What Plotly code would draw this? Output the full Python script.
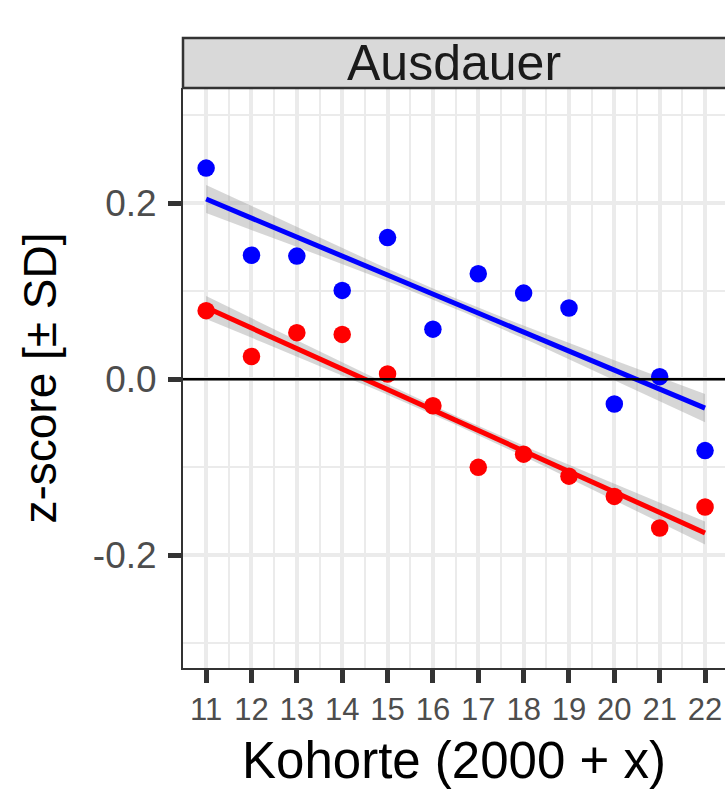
import numpy as np
import plotly.graph_objects as go

kohorte = [11, 12, 13, 14, 15, 16, 17, 18, 19, 20, 21, 22]
blue_z = [0.240, 0.141, 0.140, 0.101, 0.161, 0.057, 0.120, 0.098, 0.081, -0.028, 0.003, -0.081]
red_z = [0.078, 0.026, 0.053, 0.051, 0.006, -0.030, -0.100, -0.085, -0.110, -0.133, -0.169, -0.145]
# approximate confidence band half-widths (centre, ends)
blue_ci = [0.006, 0.016]
red_ci = [0.005, 0.013]
y_ticks = [-0.2, 0.0, 0.2]
y_ticklabels = ["-0.2", "0.0", "0.2"]
strip_label = "Ausdauer"

FONT = "Liberation Sans, Arial, sans-serif"

fig = go.Figure()


def add_series(yvals, color, ci):
    x = np.array(kohorte, dtype=float)
    y = np.array(yvals, dtype=float)
    slope, icpt = np.polyfit(x, y, 1)
    xs = np.linspace(x.min(), x.max(), 80)
    fit = icpt + slope * xs
    xbar = x.mean()
    dmax = (x.max() - x.min()) / 2
    b = np.sqrt(max(ci[1] ** 2 - ci[0] ** 2, 0)) / dmax
    hw = np.sqrt(ci[0] ** 2 + (b * (xs - xbar)) ** 2)
    fig.add_trace(go.Scatter(
        x=np.concatenate([xs, xs[::-1]]),
        y=np.concatenate([fit + hw, (fit - hw)[::-1]]),
        fill="toself", fillcolor="rgba(153,153,153,0.4)",
        line=dict(width=0), hoverinfo="skip", showlegend=False, mode="lines"))
    fig.add_trace(go.Scatter(x=xs, y=fit, mode="lines",
                             line=dict(color=color, width=5), showlegend=False))
    fig.add_trace(go.Scatter(x=x, y=y, mode="markers",
                             marker=dict(color=color, size=17.5, line=dict(width=0)),
                             showlegend=False))


add_series(blue_z, "#0000FF", blue_ci)
add_series(red_z, "#FF0000", red_ci)

fig.add_hline(y=0, line=dict(color="black", width=2.5), layer="above")

W, H = 725, 794
L, R, T, B = 183, 0, 88, 126
plot_w = W - L - R
plot_h = H - T - B
strip_h = 50

fig.update_layout(
    width=W, height=H,
    margin=dict(l=L, r=R, t=T, b=B, pad=0),
    paper_bgcolor="white", plot_bgcolor="white",
    font=dict(family=FONT, color="#4D4D4D"),
    showlegend=False,
    xaxis=dict(
        range=[10.49, 22.44],
        tickmode="array", tickvals=kohorte, ticktext=[str(k) for k in kohorte],
        tickfont=dict(size=31, color="#4D4D4D"),
        showgrid=True, gridcolor="#EBEBEB", gridwidth=3.5,
        minor=dict(tick0=10.5, dtick=1, showgrid=True, gridcolor="#EBEBEB", gridwidth=2),
        zeroline=False,
        showline=True, linecolor="#333333", linewidth=2,
        ticks="outside", ticklen=13, tickwidth=4.5, tickcolor="#333333",
        title=dict(text="Kohorte (2000 + x)", font=dict(size=51, color="black"), standoff=16),
        automargin=False,
    ),
    yaxis=dict(
        range=[-0.328, 0.331],
        tickmode="array", tickvals=y_ticks, ticktext=y_ticklabels,
        tickfont=dict(size=37, color="#4D4D4D"),
        ticklabelstandoff=4,
        showgrid=True, gridcolor="#EBEBEB", gridwidth=3.5,
        minor=dict(tick0=-0.3, dtick=0.2, showgrid=True, gridcolor="#EBEBEB", gridwidth=2),
        zeroline=False,
        showline=True, linecolor="#333333", linewidth=2,
        ticks="outside", ticklen=13, tickwidth=4.5, tickcolor="#333333",
        title=dict(text="z-score [± SD]", font=dict(size=46, color="black"), standoff=22),
        automargin=False,
    ),
)

# facet strip
fig.add_shape(type="rect", xref="paper", yref="paper",
              x0=0, x1=1.05, y0=1, y1=1 + strip_h / plot_h,
              fillcolor="#D9D9D9", line=dict(color="#333333", width=2.5), layer="above")
fig.add_annotation(text=strip_label, xref="paper", yref="paper",
                   x=(454 - L) / plot_w, y=1 + strip_h / 2 / plot_h,
                   showarrow=False, font=dict(size=50, color="#1A1A1A", family=FONT),
                   xanchor="center", yanchor="middle")

fig.write_html(
    "out.html",
    config={"displayModeBar": False},
    post_script="document.body.style.margin='0';document.body.style.overflow='hidden';",
)
